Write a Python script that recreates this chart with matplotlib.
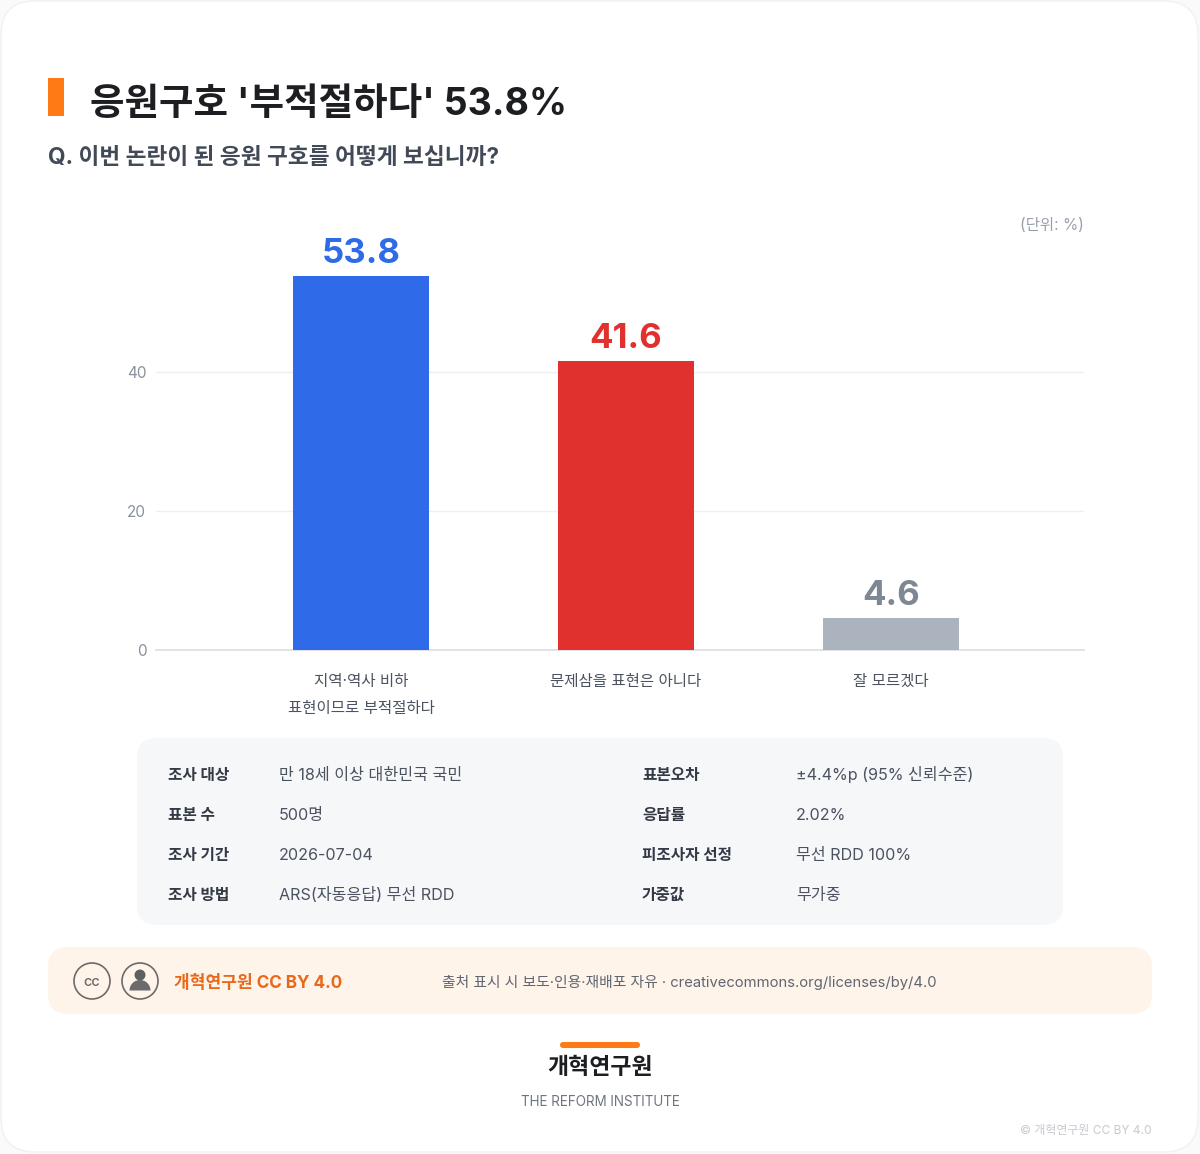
import matplotlib
matplotlib.use("Agg")
import matplotlib.pyplot as plt
from matplotlib.patches import FancyBboxPatch, Circle, Rectangle, Wedge

FONT = ["Inter", "Noto Sans CJK KR", "DejaVu Sans"]
plt.rcParams["font.family"] = FONT

# Survey results
categories = ["지역·역사 비하\n표현이므로 부적절하다", "문제삼을 표현은 아니다", "잘 모르겠다"]
values = [53.8, 41.6, 4.6]
bar_colors = ["#2F6BE8", "#E0312F", "#ABB4BE"]
label_colors = ["#2F6BE8", "#E0312F", "#7E8894"]
y_ticks = [0, 20, 40]

# Survey methodology table
left_keys = ["조사 대상", "표본 수", "조사 기간", "조사 방법"]
left_vals = ["만 18세 이상 대한민국 국민", "500명", "2026-07-04", "ARS(자동응답) 무선 RDD"]
right_keys = ["표본오차", "응답률", "피조사자 선정", "가중값"]
right_vals = ["±4.4%p (95% 신뢰수준)", "2.02%", "무선 RDD 100%", "무가중"]
row_y = [780, 820, 860, 900]

W, H = 1200, 1154
fig = plt.figure(figsize=(W / 100, H / 100), dpi=100, facecolor="#FAFAFB")

# Page layer in pixel coordinates
page = fig.add_axes([0, 0, 1, 1], zorder=0)
page.set_xlim(0, W)
page.set_ylim(H, 0)
page.axis("off")


def rounded(ax, x0, y0, x1, y1, r, color, ec="none", lw=0, z=1):
    ax.add_patch(FancyBboxPatch((x0 + r, y0 + r), x1 - x0 - 2 * r, y1 - y0 - 2 * r,
                                boxstyle=f"round,pad={r},rounding_size={r}",
                                fc=color, ec=ec, lw=lw, zorder=z))


rounded(page, 1, 1, 1198, 1152, 34, "#FFFFFF", ec="#F1F1F3", lw=1)

# Heading
page.add_patch(Rectangle((48, 78), 16, 38, fc="#FF7A14", ec="none", zorder=2))
page.text(90, 105, "응원구호 '부적절하다' 53.8%", fontsize=27, fontweight="bold",
          color="#1C1E22", va="center", ha="left", zorder=3)
page.text(48, 158, "Q. 이번 논란이 된 응원 구호를 어떻게 보십니까?", fontsize=16.3, fontweight="bold",
          color="#434A57", va="center", ha="left", zorder=3)
page.text(1084, 226, "(단위: %)", fontsize=11.2, color="#9AA1AC", va="center", ha="right", zorder=3)

# Bar chart: 6.95 px per percentage point, 265 px between categories
ax = fig.add_axes([156 / W, (H - 650) / H, (1084 - 156) / W, 445 / H], zorder=1)
ax.patch.set_alpha(0)
ax.set_xlim((156 - 361) / 265, (1084 - 361) / 265)
ax.set_ylim(0, 445 / 6.95)
positions = list(range(len(values)))
ax.bar(positions, values, width=136 / 265, color=bar_colors, zorder=3)
for x, v, c in zip(positions, values, label_colors):
    ax.annotate(f"{v:.1f}", (x, v), xytext=(0, 4.5), textcoords="offset points", ha="center",
                va="bottom", fontsize=25, fontweight="bold", color=c, zorder=4)
ax.set_yticks(y_ticks)
ax.set_yticklabels([str(t) for t in y_ticks], fontsize=11, color="#8A919C")
ax.set_xticks(positions)
ax.set_xticklabels(categories, fontsize=11.2, color="#4B5260", linespacing=2.0)
ax.tick_params(axis="both", length=0)
ax.tick_params(axis="x", pad=17.5)
ax.tick_params(axis="y", pad=7)
ax.grid(axis="y", color="#EDEFF2", lw=1, zorder=0)
ax.set_axisbelow(True)
for side in ("top", "right", "left"):
    ax.spines[side].set_visible(False)
ax.spines["bottom"].set_color("#DADDE2")
ax.spines["bottom"].set_linewidth(1.2)

# Methodology panel
rounded(page, 137, 738, 1063, 925, 20, "#F6F7F9")
for y, k, v, k2, v2 in zip(row_y, left_keys, left_vals, right_keys, right_vals):
    page.text(168, y, k, fontsize=11.3, fontweight="bold", color="#343A45", va="baseline", zorder=3)
    page.text(279, y, v, fontsize=11.6, color="#4B5260", va="baseline", zorder=3)
    page.text(642, y, k2, fontsize=11.3, fontweight="bold", color="#343A45", va="baseline", zorder=3)
    page.text(796, y, v2, fontsize=11.6, color="#4B5260", va="baseline", zorder=3)

# Licence strip
rounded(page, 48, 947, 1152, 1014, 20, "#FFF4EA")
for cx in (92, 140):
    page.add_patch(Circle((cx, 981), 18, fc="none", ec="#6B6B6B", lw=1.2, zorder=3))
page.text(92, 981.5, "cc", fontsize=10.5, fontweight="medium", color="#6B6B6B",
          ha="center", va="center", zorder=4)
page.add_patch(Circle((140, 975), 5.5, fc="#5F5F5F", ec="none", zorder=4))
page.add_patch(Wedge((140, 990.5), 10.5, 180, 360, width=10.5, fc="#6B6B6B", ec="none", zorder=4))
page.text(174, 983, "개혁연구원 CC BY 4.0", fontsize=12.3, fontweight="bold", color="#E8691C",
          va="center", zorder=3)
page.text(442, 983, "출처 표시 시 보도·인용·재배포 자유 · creativecommons.org/licenses/by/4.0",
          fontsize=10.65, color="#5F6672", va="center", zorder=3)

# Footer mark
rounded(page, 560, 1042, 640, 1048, 3, "#FF7A14")
page.text(600, 1068, "개혁연구원", fontsize=16.5, fontweight="bold", color="#1C1E22",
          ha="center", va="center", zorder=3)
page.text(600, 1102, "THE REFORM INSTITUTE", fontsize=9.7, color="#6F7580",
          ha="center", va="center", zorder=3)
page.text(1152, 1131, "© 개혁연구원 CC BY 4.0", fontsize=8.6, color="#C6CAD0",
          ha="right", va="center", zorder=3)

fig.savefig("out.png", dpi=100, facecolor=fig.get_facecolor())
